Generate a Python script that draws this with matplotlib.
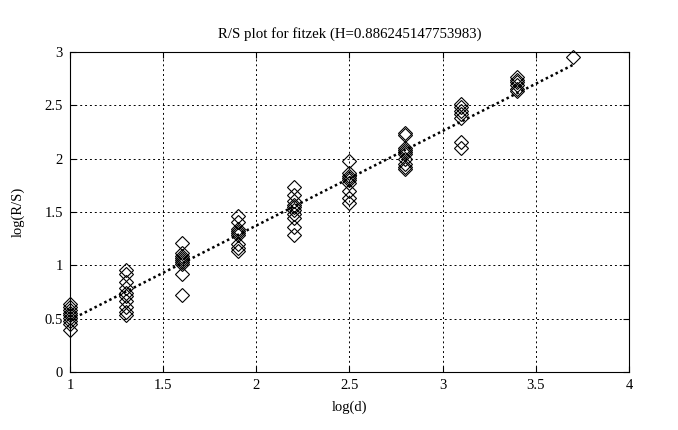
import numpy as np
import matplotlib
matplotlib.use("Agg")
import matplotlib.pyplot as plt

plt.rcParams['font.family'] = ['Liberation Serif', 'DejaVu Serif']

# ---- log(d) for each block size and the log(R/S) values
log_d = [1.0, 1.3, 1.6, 1.9, 2.2, 2.5, 2.8, 3.1, 3.4, 3.7]
log_rs = [
    [0.64, 0.61, 0.58, 0.55, 0.53, 0.51, 0.48, 0.45, 0.39],
    [0.96, 0.92, 0.84, 0.79, 0.74, 0.71, 0.67, 0.61, 0.56, 0.53],
    [1.21, 1.12, 1.09, 1.07, 1.05, 1.03, 1.01, 0.92, 0.72],
    [1.46, 1.41, 1.34, 1.32, 1.30, 1.28, 1.20, 1.16, 1.13],
    [1.73, 1.66, 1.60, 1.57, 1.55, 1.52, 1.48, 1.44, 1.36, 1.28],
    [1.98, 1.87, 1.84, 1.82, 1.80, 1.77, 1.70, 1.63, 1.58],
    [2.24, 2.22, 2.10, 2.08, 2.06, 2.04, 2.00, 1.95, 1.92, 1.90],
    [2.51, 2.48, 2.45, 2.42, 2.38, 2.16, 2.10],
    [2.77, 2.74, 2.72, 2.69, 2.65, 2.63],
    [2.95],
]
H = 0.886245147753983
intercept = 0.487

xs = []
ys = []
for d, vals in zip(log_d, log_rs):
    xs += [d] * len(vals)
    ys += vals

fig = plt.figure(figsize=(6.78, 4.30), dpi=100)
ax = fig.add_axes([70 / 678, 58 / 430, 559 / 678, 320 / 430])

ax.plot(xs, ys, linestyle='none', marker='D', markersize=7, clip_on=False,
        markerfacecolor='none', markeredgecolor='black', markeredgewidth=0.8)

# ---- fitted line with slope H
fit_x = np.array([log_d[0], log_d[-1]])
ax.plot(fit_x, intercept + H * (fit_x - log_d[0]), color='black',
        linestyle=(0, (1, 1.2)), linewidth=1.8)

ax.set_xlim(1, 4)
ax.set_ylim(0, 3)
ax.set_xticks([1, 1.5, 2, 2.5, 3, 3.5, 4])
ax.set_yticks([0, 0.5, 1, 1.5, 2, 2.5, 3])
ax.set_xticklabels(['1', '1.5', '2', '2.5', '3', '3.5', '4'])
ax.set_yticklabels(['0', '0.5', '1', '1.5', '2', '2.5', '3'])
ax.tick_params(direction='in', top=True, right=True, labelsize=10.5, length=4, pad=5)
ax.grid(True, color='black', linestyle=(0, (2, 3)), linewidth=0.7)
for s in ax.spines.values():
    s.set_linewidth(0.8)

ax.set_title('R/S plot for fitzek (H=%s)' % repr(H), fontsize=10.7, pad=10)
ax.set_xlabel('log(d)', fontsize=10.5, labelpad=6)
ax.set_ylabel('log(R/S)', fontsize=10.5, labelpad=14)

fig.savefig('out.png', dpi=100)
